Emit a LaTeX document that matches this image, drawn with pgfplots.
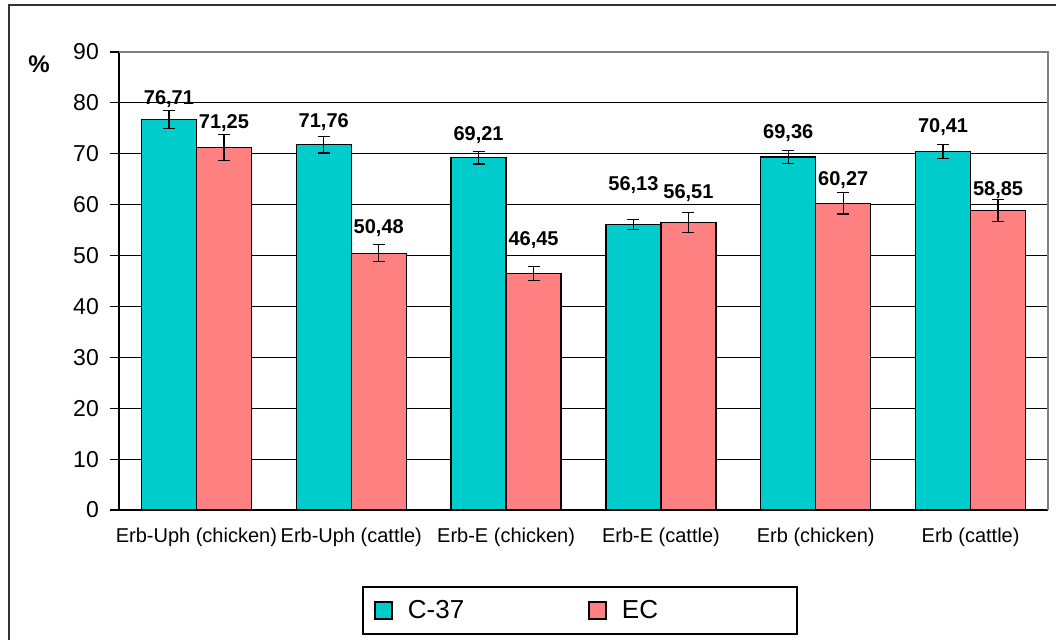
\documentclass[border=0pt]{standalone}
\usepackage{pgfplots}
\pgfplotsset{compat=1.18}
\usepackage{fontspec}
\setmainfont{Liberation Sans}
\definecolor{cthree}{RGB}{0,204,204}
\definecolor{ecred}{RGB}{255,128,128}
\begin{document}
\begin{tikzpicture}[x=1pt,y=1pt]
\useasboundingbox (0,0) rectangle (1056,639);
\clip (0,0) rectangle (1056,639);
% outer frame (right and bottom fall outside the picture)
\draw[line width=2pt, black!80] (9,-20) -- (9,634) -- (1080,634);
\begin{axis}[
    at={(119pt,129pt)}, anchor=south west,
    scale only axis, width=929pt, height=458pt,
    xmin=-0.5, xmax=5.5, ymin=0, ymax=90,
    ytick={0,10,...,90},
    xtick={0,...,5},
    xticklabels={Erb-Uph (chicken),Erb-Uph (cattle),Erb-E (chicken),Erb-E (cattle),Erb (chicken),Erb (cattle)},
    minor xtick={-0.5,0.5,...,5.5},
    xtick style={draw=none},
    minor tick length=7pt,
    major tick length=9pt,
    tick align=outside,
    tick style={black, line width=1.2pt},
    axis x line*=bottom, axis y line*=left,
    axis line style={-, black, line width=1.2pt},
    ymajorgrids,
    major grid style={black, line width=1.1pt},
    /pgf/number format/assume math mode=true,
    yticklabel style={font=\fontsize{23}{23}\selectfont, inner sep=0pt, xshift=-11pt},
    xticklabel style={font=\fontsize{20}{20}\selectfont, inner sep=0pt, yshift=-9pt},
    ybar, bar width=55pt,
    clip=false,
    nodes near coords,
    point meta=explicit symbolic,
    visualization depends on={(\thisrow{ly}-\thisrow{y})*5.0889 \as \dy},
    every node near coord/.append style={font=\bfseries\fontsize{20}{20}\selectfont, anchor=base, inner sep=0pt, yshift=\dy pt},
    error bars/y dir=both, error bars/y explicit,
    error bars/error bar style={black, line width=1.2pt},
    error bars/error mark options={black, line width=1.2pt, mark size=6pt, rotate=90},
    legend columns=2,
    legend style={at={(0.4962,-0.2194)}, anchor=center, draw=black, line width=1.3pt,
        inner sep=0pt, column sep=0pt, font=\fontsize{26}{26}\selectfont,
        nodes={inner sep=0pt}},
]
\addplot[fill=cthree, draw=black, line width=1.2pt, bar shift=-27.5pt, forget plot] table[x=x, y=y, y error=err, meta=lab] {
x y err ly lab
0 76.71 1.8 79.7 76,71
1 71.76 1.6 75.2 71,76
2 69.21 1.2 72.7 69,21
3 56.13 1.0 62.8 56,13
4 69.36 1.3 73.0 69,36
5 70.41 1.4 74.2 70,41
};
\addplot[fill=ecred, draw=black, line width=1.2pt, bar shift=27.5pt, forget plot] table[x=x, y=y, y error=err, meta=lab] {
x y err ly lab
0 71.25 2.6 74.9 71,25
1 50.48 1.7 54.3 50,48
2 46.45 1.4 52.0 46,45
3 56.51 2.0 61.2 56,51
4 60.27 2.1 63.8 60,27
5 58.85 2.1 61.8 58,85
};
\addlegendimage{legend image code/.code={%
    \path[draw=none, fill=none] (0pt,-23.5pt) rectangle (45pt,23.5pt);
    \draw[draw=black, fill=cthree, line width=1.2pt] (12pt,-8.5pt) rectangle (29pt,8.5pt);}}
\addlegendentry{\makebox[169pt][l]{C-37}}
\addlegendimage{legend image code/.code={%
    \path[draw=none, fill=none] (0pt,-23.5pt) rectangle (45pt,23.5pt);
    \draw[draw=black, fill=ecred, line width=1.2pt] (12pt,-8.5pt) rectangle (29pt,8.5pt);}}
\addlegendentry{\makebox[175pt][l]{EC}}
\draw[gray, line width=1.4pt] (rel axis cs:0,1) -- (rel axis cs:1,1) -- (rel axis cs:1,0);
\node[font=\bfseries\fontsize{24}{24}\selectfont] at (rel axis cs:0,1) [xshift=-80pt, yshift=-12pt] {\%};
\end{axis}
\end{tikzpicture}
\end{document}
